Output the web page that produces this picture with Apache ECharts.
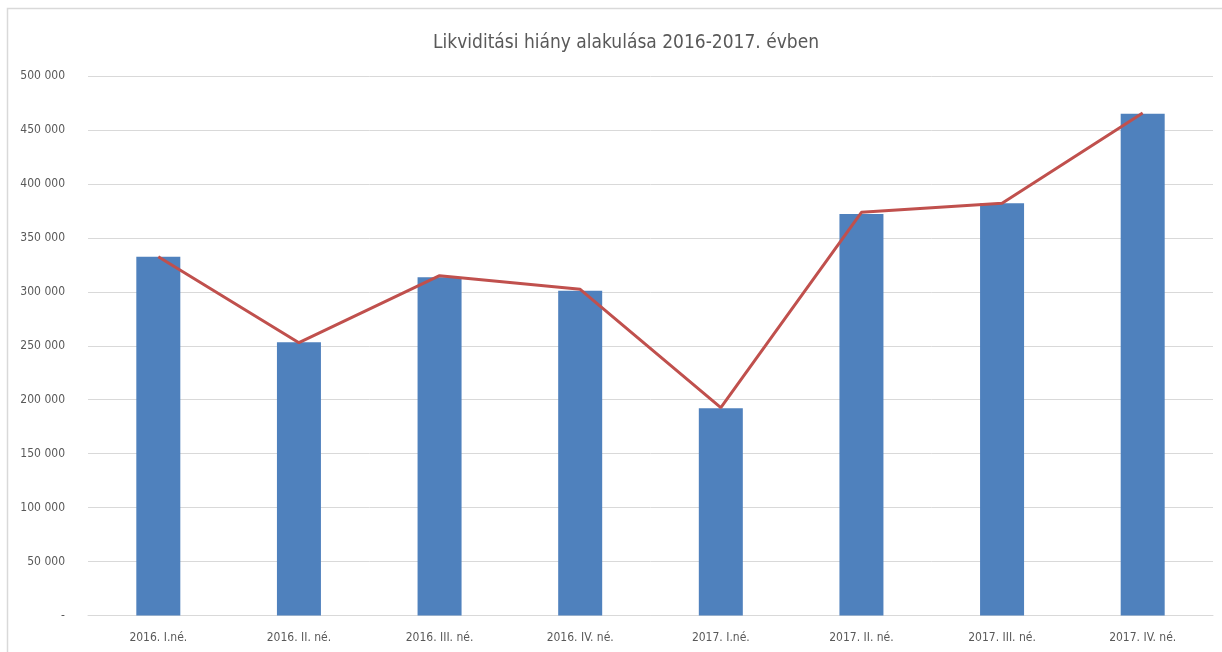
<!DOCTYPE html>
<html>
<head>
    <meta charset="utf-8">
    <script src="https://cdn.jsdelivr.net/npm/echarts@6/dist/echarts.min.js"></script>
    <style>
        html, body { margin: 0; padding: 0; background: #fff; }
        #main { position: absolute; top: 0; left: 0; width: 1222px; height: 652px; }
    </style>
</head>
<body>
<div id="main"></div>
<script type="text/javascript">
    // negyedévek
    var categories = ['2016. I.né.', '2016. II. né.', '2016. III. né.', '2016. IV. né.',
        '2017. I.né.', '2017. II. né.', '2017. III. né.', '2017. IV. né.'];
    // oszlopok (likviditási hiány)
    var barValues = [332500, 253200, 313400, 301000, 192000, 372100, 382000, 465100];
    // vonal
    var lineValues = [332500, 252800, 314900, 302300, 192600, 373700, 382000, 465700];

    var font = '"Liberation Sans Narrow", "DejaVu Sans Condensed", "Open Sans", sans-serif';

    function fmt(v) {
        if (v === 0) return '-';
        return String(v).replace(/\B(?=(\d{3})+(?!\d))/g, ' ');
    }

    var myChart = echarts.init(document.getElementById('main'));
    myChart.setOption({
        animation: false,
        backgroundColor: '#fff',
        title: {
            text: 'Likviditási hiány alakulása 2016-2017. évben',
            left: 428,
            top: 29,
            textStyle: { color: '#595959', fontSize: 19, fontWeight: 'normal', fontFamily: font }
        },
        graphic: [{
            type: 'rect',
            shape: { x: 7.5, y: 8.5, width: 1300, height: 700 },
            style: { fill: 'none', stroke: '#d9d9d9', lineWidth: 1.5 },
            silent: true
        }],
        grid: { left: 88, right: 9, top: 76, bottom: 36.5 },
        xAxis: {
            type: 'category',
            data: categories,
            axisLine: { lineStyle: { color: '#d9d9d9' } },
            axisTick: { show: false },
            axisLabel: { color: '#595959', fontSize: 12, fontFamily: font, margin: 16 }
        },
        yAxis: {
            type: 'value',
            min: 0,
            max: 500000,
            interval: 50000,
            axisLine: { show: false },
            axisTick: { show: false },
            splitLine: { lineStyle: { color: '#d9d9d9' } },
            axisLabel: { color: '#595959', fontSize: 12, fontFamily: font, margin: 23, formatter: fmt }
        },
        series: [{
            type: 'bar',
            data: barValues,
            barWidth: 44,
            itemStyle: { color: '#4f81bd' }
        }, {
            type: 'line',
            data: lineValues,
            symbol: 'none',
            lineStyle: { color: '#c0504d', width: 3 },
            z: 3
        }]
    });
</script>
</body>
</html>
